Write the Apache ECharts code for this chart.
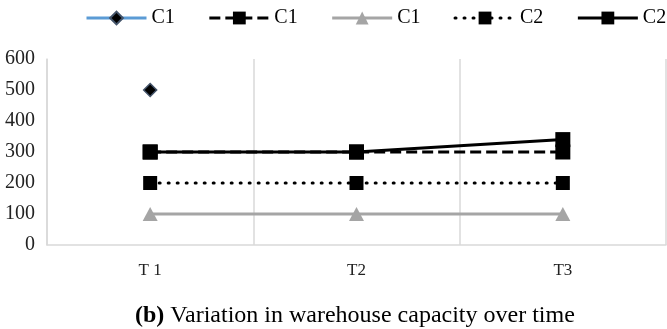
<!DOCTYPE html>
<html>
<head>
<meta charset="utf-8">
<script src="https://cdn.jsdelivr.net/npm/echarts@6/dist/echarts.min.js"></script>
<style>html,body{margin:0;padding:0;background:#fff}#c{width:667px;height:329px}</style>
</head>
<body>
<div id="c"></div>
<script>
const categories = ['T 1', 'T2', 'T3'];
const c1Diamond = [500, null, null];
const c1Dashed = [300, 300, 300];
const c1Gray = [100, 100, 100];
const c2Dotted = [200, 200, 200];
const c2Solid = [300, 300, 340];
const yTicks = [0, 100, 200, 300, 400, 500, 600];

const FONT = 'Liberation Serif';
const chart = echarts.init(document.getElementById('c'), null, {renderer: 'canvas'});
chart.setOption({
  animation: false,
  backgroundColor: '#fff',
  textStyle: {fontFamily: FONT},
  title: {
    text: '{b|(b)} Variation in warehouse capacity over time',
    left: 130, top: 299,
    textStyle: {
      fontFamily: FONT, fontSize: 24, fontWeight: 'normal', color: '#000',
      rich: {b: {fontFamily: FONT, fontSize: 24, fontWeight: 'bold', color: '#000'}}
    }
  },
  legend: {
    left: 85, right: 0, top: 8, padding: 0,
    itemWidth: 60, itemHeight: 16, itemGap: 33,
    textStyle: {fontFamily: FONT, fontSize: 20, color: '#000'},
    lineStyle: {width: 3},
    data: ['C1', 'C1 ', 'C1  ', 'C2', 'C2 '],
    formatter: n => n.trim()
  },
  grid: {left: 47, right: 1, top: 59, bottom: 84},
  xAxis: {
    type: 'category', data: categories, boundaryGap: true,
    axisLine: {show: true, lineStyle: {color: '#d9d9d9', width: 1.5}},
    axisTick: {show: false},
    splitLine: {show: true, lineStyle: {color: '#d9d9d9', width: 1.5}},
    axisLabel: {fontFamily: FONT, fontSize: 17, color: '#222', margin: 17}
  },
  yAxis: {
    type: 'value', min: yTicks[0], max: yTicks[yTicks.length - 1], interval: 100,
    axisLine: {show: true, lineStyle: {color: '#d9d9d9', width: 1.5}},
    axisTick: {show: false},
    splitLine: {show: false},
    axisLabel: {fontFamily: FONT, fontSize: 20, color: '#222', margin: 12}
  },
  series: [
    {
      name: 'C1', type: 'line', data: c1Diamond,
      symbol: 'diamond', symbolSize: 13, showSymbol: true,
      lineStyle: {color: '#5B9BD5', width: 3},
      itemStyle: {color: '#000', borderColor: '#44546A', borderWidth: 1.5}
    },
    {
      name: 'C1 ', type: 'line', data: c1Dashed,
      symbol: 'rect', symbolSize: 15,
      lineStyle: {color: '#000', width: 3, type: [11, 5]},
      itemStyle: {color: '#000'}
    },
    {
      name: 'C1  ', type: 'line', data: c1Gray,
      symbol: 'triangle', symbolSize: [15, 14],
      lineStyle: {color: '#A5A5A5', width: 3},
      itemStyle: {color: '#A5A5A5'}
    },
    {
      name: 'C2', type: 'line', data: c2Dotted,
      symbol: 'rect', symbolSize: 14,
      lineStyle: {color: '#000', width: 3, type: [1, 8], cap: 'round'},
      itemStyle: {color: '#000'}
    },
    {
      name: 'C2 ', type: 'line', data: c2Solid,
      symbol: 'rect', symbolSize: 15,
      lineStyle: {color: '#000', width: 3},
      itemStyle: {color: '#000'}
    }
  ]
});
</script>
</body>
</html>
